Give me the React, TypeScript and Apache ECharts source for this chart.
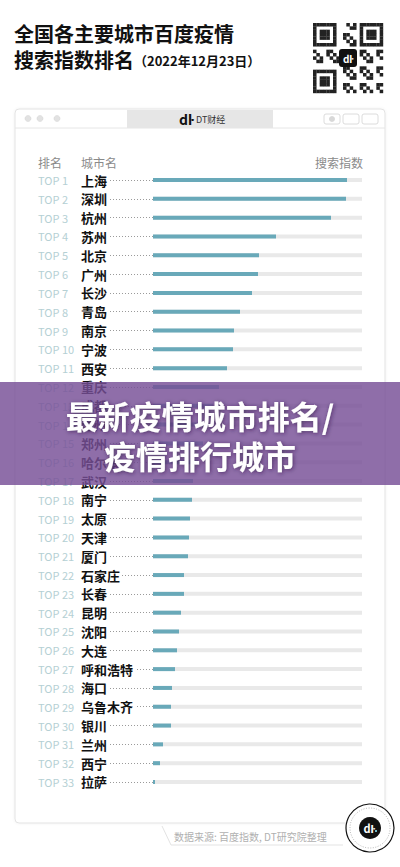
import React, { useEffect, useRef } from "react";
import * as echarts from "echarts";

const ranks = [
  "TOP 1", "TOP 2", "TOP 3", "TOP 4", "TOP 5", "TOP 6", "TOP 7", "TOP 8", "TOP 9", "TOP 10",
  "TOP 11", "TOP 12", "TOP 13", "TOP 14", "TOP 15", "TOP 16", "TOP 17", "TOP 18", "TOP 19", "TOP 20",
  "TOP 21", "TOP 22", "TOP 23", "TOP 24", "TOP 25", "TOP 26", "TOP 27", "TOP 28", "TOP 29", "TOP 30",
  "TOP 31", "TOP 32", "TOP 33",
];
const cities = [
  "上海", "深圳", "杭州", "苏州", "北京", "广州", "长沙", "青岛", "南京", "宁波",
  "西安", "重庆", "成都", "温州", "郑州", "哈尔滨", "武汉", "南宁", "太原", "天津",
  "厦门", "石家庄", "长春", "昆明", "沈阳", "大连", "呼和浩特", "海口", "乌鲁木齐", "银川",
  "兰州", "西宁", "拉萨",
];
const searchIndex = [
  194, 193, 178, 123, 106, 105, 99, 87, 81, 80,
  74, 66, 60, 55, 50, 45, 40, 39, 37, 36,
  35, 31, 31, 28, 26, 24, 22, 19, 18, 18,
  10, 7, 2,
];
const indexMax = 209;

const FONT = "'Noto Sans CJK SC', 'Noto Sans', sans-serif";

function qrCells() {
  const n = 21;
  const cells: any[] = [];
  const size = 70 / n;
  const x0 = 313, y0 = 23;
  const finder = (r: number, c: number) => {
    const inF = (fr: number, fc: number) => {
      const dr = r - fr, dc = c - fc;
      if (dr < 0 || dr > 6 || dc < 0 || dc > 6) return -1;
      if (dr === 0 || dr === 6 || dc === 0 || dc === 6) return 1;
      if (dr >= 2 && dr <= 4 && dc >= 2 && dc <= 4) return 1;
      return 0;
    };
    for (const [fr, fc] of [[0, 0], [0, 14], [14, 0]]) {
      const v = inF(fr, fc);
      if (v >= 0) return v;
    }
    if ((r === 7 && (c <= 7 || c >= 13)) || (c === 7 && (r <= 7 || r >= 13)) || (r === 13 && c <= 7) || (c === 13 && r <= 7)) return 0;
    return -1;
  };
  for (let r = 0; r < n; r++) {
    for (let c = 0; c < n; c++) {
      let v = finder(r, c);
      if (v < 0) v = ((r * 7 + c * 13 + r * c) % 5) < 2 ? 1 : 0;
      if (r >= 8 && r <= 12 && c >= 8 && c <= 12) v = 0;
      if (v) {
        cells.push({
          type: "rect",
          shape: { x: x0 + c * size, y: y0 + r * size, width: size + 0.2, height: size + 0.2 },
          style: { fill: "#222" },
          silent: true,
        });
      }
    }
  }
  cells.push({ type: "rect", shape: { x: 339, y: 49, width: 18, height: 18, r: 3 }, style: { fill: "#111" } });
  cells.push({ type: "text", style: { x: 348, y: 58, text: "dŀ", fill: "#fff", font: "bold 10px " + FONT, align: "center", verticalAlign: "middle" } });
  return cells;
}

export default function App() {
  const ref = useRef<HTMLDivElement>(null);
  useEffect(() => {
    if (!ref.current) return;
    const chart = echarts.init(ref.current, null, { renderer: "svg" });
    const option: any = {
      animation: false,
      backgroundColor: "#ffffff",
      title: {
        left: 14,
        top: 20,
        padding: 0,
        text: "{t|全国各主要城市百度疫情}\n{t|搜索指数排名}{d|（2022年12月23日）}",
        textStyle: {
          rich: {
            t: { fontSize: 20, fontWeight: "bold", color: "#111", lineHeight: 26, fontFamily: FONT },
            d: { fontSize: 13, fontWeight: "bold", color: "#111", lineHeight: 26, fontFamily: FONT, padding: [3, 0, 0, 0] },
          },
        },
      },
      grid: { left: 153, width: 209, top: 170.6, height: 620.8 },
      xAxis: {
        type: "value",
        min: 0,
        max: indexMax,
        show: false,
      },
      yAxis: {
        type: "category",
        inverse: true,
        data: cities,
        axisLine: { show: false },
        axisTick: {
          show: true,
          alignWithLabel: true,
          length: 70,
          lineStyle: { color: "#9a9a9a", type: [1, 2], width: 1 },
        },
        axisLabel: {
          margin: 115,
          align: "left",
          formatter: (v: string, i: number) => `{a|${ranks[i]}}{b|${v}}`,
          rich: {
            a: { width: 43, fontSize: 11, color: "#b5d0d4", fontFamily: FONT, lineHeight: 15 },
            b: { fontSize: 13, fontWeight: "bold", color: "#111", fontFamily: FONT, backgroundColor: "#fff", padding: [0, 2, 0, 0], lineHeight: 15 },
          },
        },
      },
      series: [
        {
          type: "bar",
          data: searchIndex,
          barWidth: 4,
          itemStyle: { color: "#69a9b9" },
          showBackground: true,
          backgroundStyle: { color: "#e9e9e9" },
          z: 3,
        },
      ],
      graphic: [
        // window frame
        { type: "rect", z: 0, shape: { x: 15, y: 109, width: 370, height: 714, r: 4 }, style: { fill: "#fff", stroke: "#e3e3e3", lineWidth: 1, shadowBlur: 3, shadowColor: "rgba(0,0,0,0.06)" }, silent: true },
        { type: "line", z: 1, shape: { x1: 15, y1: 128, x2: 385, y2: 128 }, style: { stroke: "#e6e6e6", lineWidth: 1 } },
        { type: "circle", z: 1, shape: { cx: 28, cy: 118.5, r: 3 }, style: { fill: "#e2e2e2", stroke: "#d0d0d0", lineWidth: 0.5 } },
        { type: "circle", z: 1, shape: { cx: 40, cy: 118.5, r: 3 }, style: { fill: "#e2e2e2", stroke: "#d0d0d0", lineWidth: 0.5 } },
        { type: "circle", z: 1, shape: { cx: 57, cy: 118.5, r: 3 }, style: { fill: "#e2e2e2", stroke: "#d0d0d0", lineWidth: 0.5 } },
        { type: "rect", z: 1, shape: { x: 127, y: 110, width: 146, height: 18 }, style: { fill: "#e6e6e6" } },
        { type: "text", z: 2, style: { x: 186, y: 119, text: "dŀ", fill: "#111", font: "bold 14px " + FONT, align: "center", verticalAlign: "middle" } },
        { type: "text", z: 2, style: { x: 196, y: 119.5, text: "DT财经", fill: "#333", font: "9px " + FONT, align: "left", verticalAlign: "middle" } },
        { type: "rect", z: 1, shape: { x: 324, y: 114, width: 16, height: 10, r: 2 }, style: { fill: "none", stroke: "#dcdcdc", lineWidth: 1 } },
        { type: "circle", z: 1, shape: { cx: 332, cy: 119, r: 3 }, style: { fill: "#d8d8d8" } },
        { type: "rect", z: 1, shape: { x: 343, y: 114, width: 16, height: 10, r: 2 }, style: { fill: "none", stroke: "#dcdcdc", lineWidth: 1 } },
        { type: "rect", z: 1, shape: { x: 362, y: 114, width: 16, height: 10, r: 2 }, style: { fill: "none", stroke: "#dcdcdc", lineWidth: 1 } },
        // column headers
        { type: "text", z: 2, style: { x: 38, y: 162, text: "排名", fill: "#8a8a8a", font: "12px " + FONT, verticalAlign: "middle" } },
        { type: "text", z: 2, style: { x: 81, y: 162, text: "城市名", fill: "#8a8a8a", font: "12px " + FONT, verticalAlign: "middle" } },
        { type: "text", z: 2, style: { x: 363, y: 162, text: "搜索指数", fill: "#8a8a8a", font: "12px " + FONT, align: "right", verticalAlign: "middle" } },
        // footer tab
        { type: "polyline", z: 1, shape: { points: [[162, 826], [171, 845], [343, 845]] }, style: { stroke: "#e3e3e3", lineWidth: 1, fill: "none" } },
        { type: "text", z: 2, style: { x: 174, y: 836, text: "数据来源: 百度指数, DT研究院整理", fill: "#b0b0b0", font: "10px " + FONT, verticalAlign: "middle" } },
        { type: "circle", z: 2, shape: { cx: 370, cy: 828, r: 24 }, style: { fill: "#fff", stroke: "#111", lineWidth: 1.2 } },
        { type: "circle", z: 2, shape: { cx: 370, cy: 828, r: 20 }, style: { fill: "none", stroke: "#888", lineWidth: 0.6, lineDash: [1, 1.5] } },
        { type: "circle", z: 2, shape: { cx: 370, cy: 828, r: 11 }, style: { fill: "#111" } },
        { type: "text", z: 3, style: { x: 369, y: 828, text: "dŀ", fill: "#fff", font: "bold 11px " + FONT, align: "center", verticalAlign: "middle" } },
        { type: "rect", z: 3, shape: { x: 375, y: 830, width: 2, height: 2 }, style: { fill: "#6fb7c6" } },
        // QR code
        { type: "group", z: 2, children: qrCells() },
        // overlay banner
        { type: "rect", z: 100, shape: { x: 0, y: 382, width: 400, height: 103 }, style: { fill: "rgba(118,78,150,0.82)" } },
        { type: "text", z: 101, style: { x: 200, y: 415, text: "最新疫情城市排名/", fill: "#fff", font: "bold 32px " + FONT, align: "center", verticalAlign: "middle", textShadowColor: "rgba(40,20,60,0.6)", textShadowBlur: 4, textShadowOffsetX: 1, textShadowOffsetY: 1 } },
        { type: "text", z: 101, style: { x: 200, y: 455, text: "疫情排行城市", fill: "#fff", font: "bold 32px " + FONT, align: "center", verticalAlign: "middle", textShadowColor: "rgba(40,20,60,0.6)", textShadowBlur: 4, textShadowOffsetX: 1, textShadowOffsetY: 1 } },
      ],
    };
    chart.setOption(option);
    return () => chart.dispose();
  }, []);
  return <div ref={ref} style={{ width: 400, height: 867, position: "absolute", left: 0, top: 0 }} />;
}
